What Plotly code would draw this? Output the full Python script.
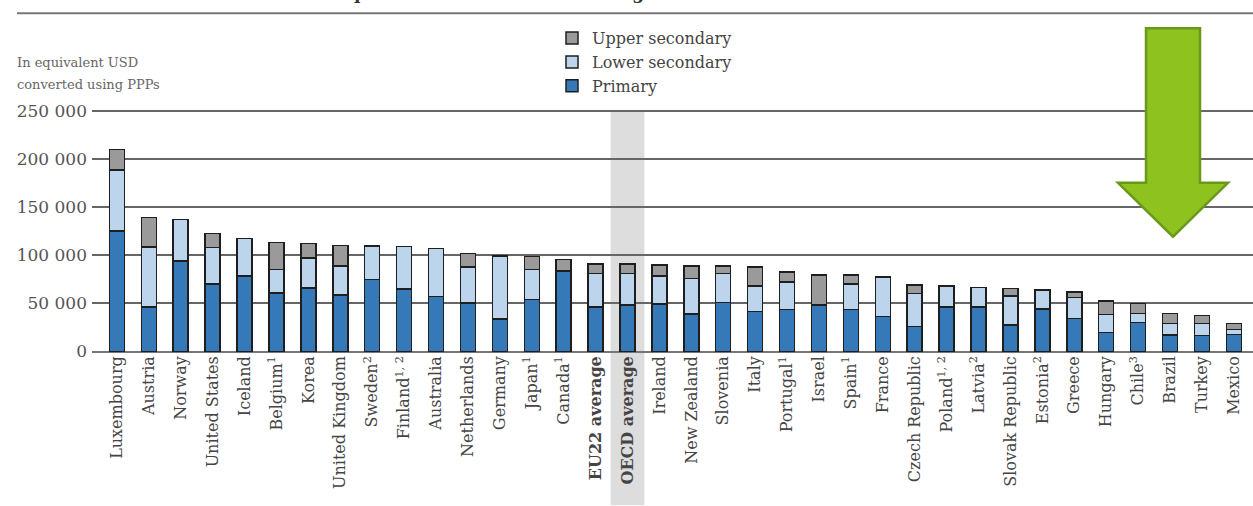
import plotly.graph_objects as go

# ---------------- data ----------------
countries = ["Luxembourg", "Austria", "Norway", "United States", "Iceland", "Belgium",
             "Korea", "United Kingdom", "Sweden", "Finland", "Australia", "Netherlands",
             "Germany", "Japan", "Canada", "EU22 average", "OECD average", "Ireland",
             "New Zealand", "Slovenia", "Italy", "Portugal", "Israel", "Spain", "France",
             "Czech Republic", "Poland", "Latvia", "Slovak Republic", "Estonia", "Greece",
             "Hungary", "Chile", "Brazil", "Turkey", "Mexico"]

tick_labels = ["Luxembourg", "Austria", "Norway", "United States", "Iceland", "Belgium<sup>1</sup>",
               "Korea", "United Kingdom", "Sweden<sup>2</sup>", "Finland<sup>1, 2</sup>", "Australia",
               "Netherlands", "Germany", "Japan<sup>1</sup>", "Canada<sup>1</sup>",
               "<b>EU22 average</b>", "<b>OECD average</b>", "Ireland", "New Zealand", "Slovenia",
               "Italy", "Portugal<sup>1</sup>", "Israel", "Spain<sup>1</sup>", "France",
               "Czech Republic", "Poland<sup>1, 2</sup>", "Latvia<sup>2</sup>", "Slovak Republic",
               "Estonia<sup>2</sup>", "Greece", "Hungary", "Chile<sup>3</sup>", "Brazil", "Turkey",
               "Mexico"]

# cumulative expenditure (USD PPP) at end of each level
primary = [125000, 46000, 94000, 70000, 78500, 61000, 66000, 58500, 75000, 65000, 57000,
           50500, 34000, 54000, 83800, 46500, 48300, 49300, 39000, 51000, 41400, 43800,
           48300, 43800, 36200, 25900, 46500, 46500, 27600, 44100, 34500, 19700, 30300,
           17200, 16500, 17900]
lower_secondary = [188500, 108500, 137000, 108000, 117500, 85200, 97200, 88600, 109700, 109300,
                   107000, 88000, 99000, 85200, 83800, 81000, 81000, 78600, 75900, 81000,
                   68300, 72400, 48300, 70000, 77600, 60300, 68300, 66500, 57900, 63800,
                   56200, 38600, 39700, 29300, 29300, 23100]
upper_secondary = [210000, 139000, 137000, 122500, 117500, 113000, 112000, 110300, 109700,
                   109300, 107000, 101700, 99000, 98500, 95500, 90700, 90700, 89700, 88600,
                   88600, 87900, 82800, 79300, 79300, 77600, 69000, 68300, 66500, 65500,
                   63800, 62000, 52400, 50000, 39700, 37600, 29300]

y_ticks = [0, 50000, 100000, 150000, 200000, 250000]
y_tick_text = ["0", "50 000", "100 000", "150 000", "200 000", "250 000"]


def seg(top, base):
    out = []
    for t, b in zip(top, base):
        d = t - b
        out.append(d if d > 0 else None)
    return out


seg_primary = primary
seg_lower = seg(lower_secondary, primary)
seg_upper = seg(upper_secondary, lower_secondary)

FONT = "DejaVu Serif"
outline = dict(color="#1e1e1e", width=1.5)

fig = go.Figure()
fig.add_trace(go.Bar(x=countries, y=seg_primary, name="Primary",
                     marker=dict(color="#3579b8", line=outline)))
fig.add_trace(go.Bar(x=countries, y=seg_lower, name="Lower secondary",
                     marker=dict(color="#bcd4ec", line=outline)))
fig.add_trace(go.Bar(x=countries, y=seg_upper, name="Upper secondary",
                     marker=dict(color="#9a9a9a", line=outline)))

# ---------------- layout geometry (pixels) ----------------
W, H = 1253, 506
L, R, T = 92, 0, 107
B_px = 352.5
plot_h = B_px - T
plot_w = W - L - R


def px(x):
    return (x - L) / plot_w


def py(y):
    return (B_px - y) / plot_h


shapes = []
# OECD highlight band
oecd_i = countries.index("OECD average")
shapes.append(dict(type="rect", xref="x", yref="paper",
                   x0=oecd_i - 0.53, x1=oecd_i + 0.53, y0=py(506), y1=py(112),
                   fillcolor="#dddddd", line=dict(width=0), layer="below"))
# top rule under the (cut) title
shapes.append(dict(type="line", xref="paper", yref="paper",
                   x0=px(17), x1=px(1253), y0=py(13), y1=py(13),
                   line=dict(color="#777777", width=2)))
# green arrow decoration
pts = [(1146, 28), (1200, 28), (1200, 183), (1228, 183), (1173, 237),
       (1118, 183), (1146, 183)]
path = "M " + " L ".join(f"{px(x):.5f},{py(y):.5f}" for x, y in pts) + " Z"
shapes.append(dict(type="path", xref="paper", yref="paper", path=path,
                   fillcolor="#8dc21f", line=dict(color="#6a981a", width=2.5)))

annotations = [
    dict(text="In equivalent USD", xref="paper", yref="paper",
         x=px(15), y=py(62), xanchor="left", yanchor="middle", align="left",
         showarrow=False, font=dict(family=FONT, size=13, color="#666666")),
    dict(text="converted using PPPs", xref="paper", yref="paper",
         x=px(15), y=py(84), xanchor="left", yanchor="middle", align="left",
         showarrow=False, font=dict(family=FONT, size=13, color="#666666")),
    dict(text="<b>in equivalent USD converted using PPPs</b>", xref="paper", yref="paper",
         x=px(505), y=py(-7), xanchor="center", yanchor="middle",
         showarrow=False, font=dict(family=FONT, size=17, color="#333333")),
]

fig.update_layout(
    barmode="stack",
    bargap=0.53,
    width=W, height=H,
    margin=dict(l=L, r=R, t=T, b=H - B_px, autoexpand=False),
    plot_bgcolor="white", paper_bgcolor="white",
    font=dict(family=FONT, color="#444444"),
    showlegend=True,
    legend=dict(x=px(552), y=py(21), xanchor="left", yanchor="top",
                traceorder="reversed", bgcolor="rgba(0,0,0,0)",
                font=dict(family=FONT, size=16, color="#444444"),
                tracegroupgap=0, itemwidth=30),
    shapes=shapes,
    annotations=annotations,
    xaxis=dict(range=[-0.78, 35.6], tickmode="array", tickvals=countries,
               ticktext=tick_labels, tickangle=-90, showgrid=False,
               tickfont=dict(family=FONT, size=16, color="#444444"),
               showline=False, ticks="", zeroline=False, fixedrange=True),
    yaxis=dict(range=[-500, 254000], tickmode="array", tickvals=y_ticks,
               ticktext=y_tick_text, showgrid=True, gridcolor="#666666", gridwidth=2,
               zeroline=True, zerolinecolor="#777777", zerolinewidth=2,
               tickfont=dict(family=FONT, size=17, color="#555555"),
               ticklabelstandoff=4,
               ticks="", showline=False, fixedrange=True),
)

fig.write_html("out.html",
               config={"displayModeBar": False},
               post_script="document.body.style.margin='0';document.body.style.overflow='hidden';")
